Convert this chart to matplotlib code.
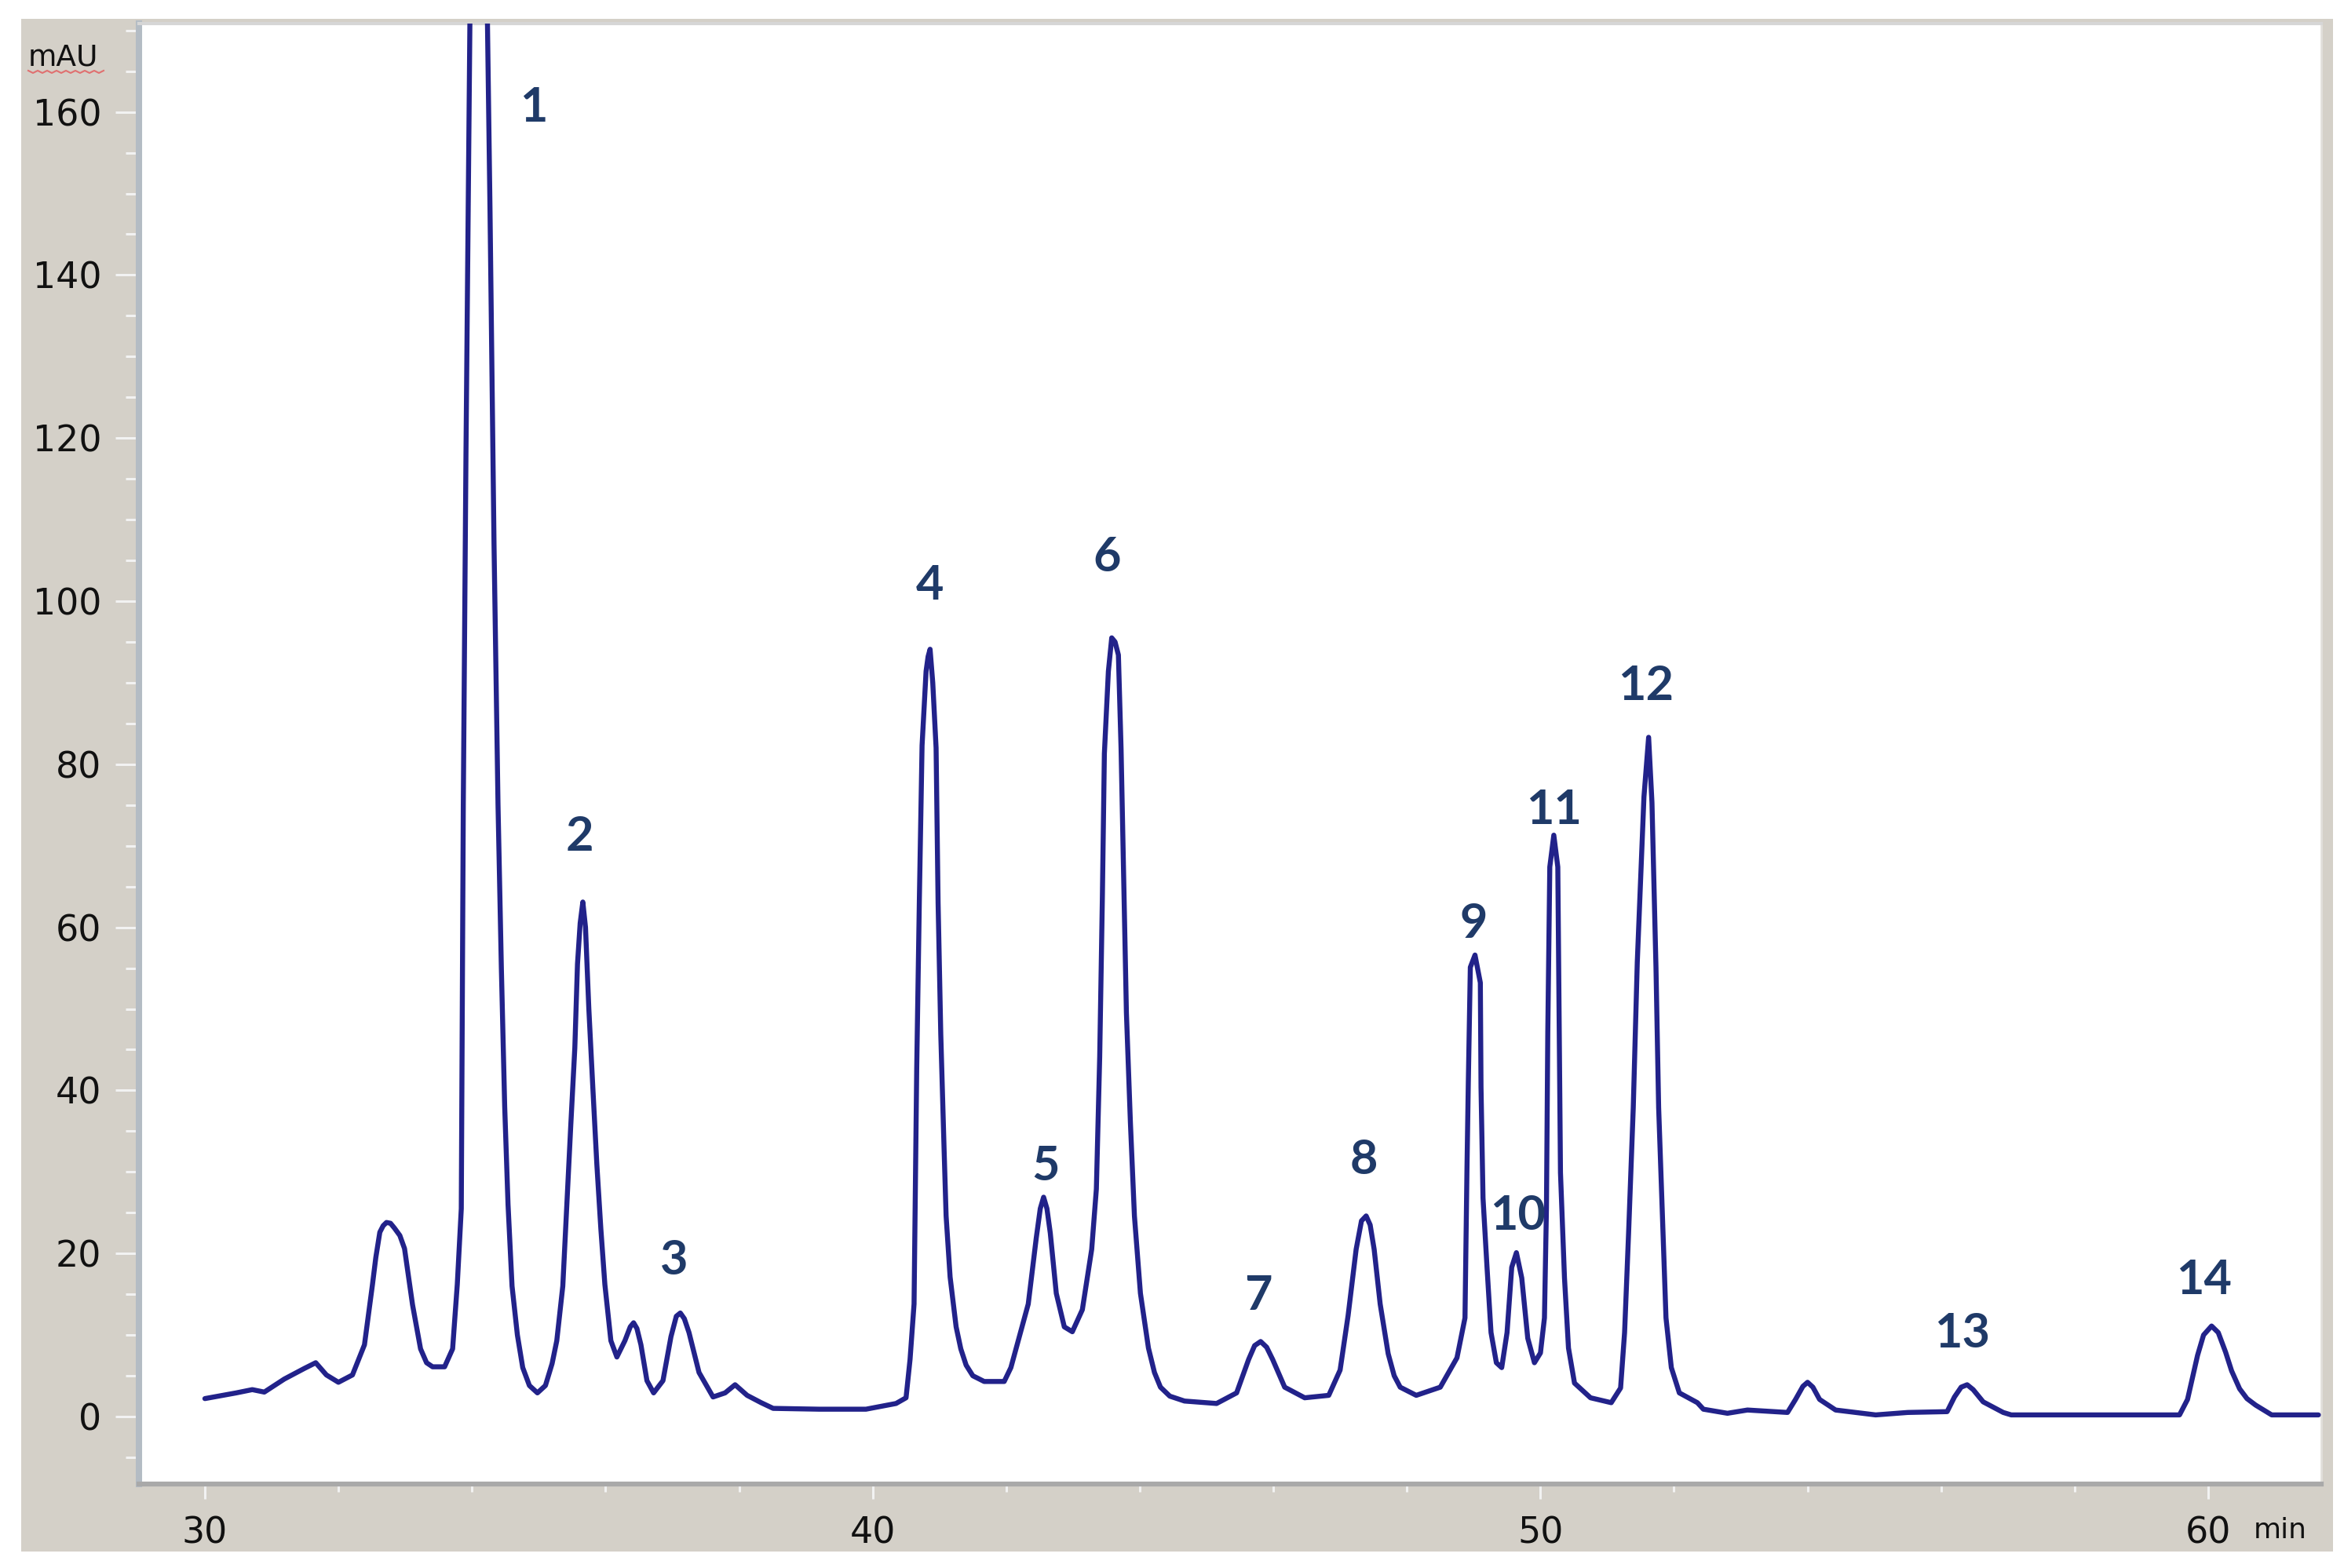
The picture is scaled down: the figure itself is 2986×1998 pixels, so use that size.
import matplotlib
matplotlib.use("Agg")
import matplotlib.pyplot as plt
from matplotlib.patches import Rectangle
from matplotlib.lines import Line2D
from matplotlib.ticker import MultipleLocator

# ---- data ----
time_min = [30.0, 30.47, 30.71, 30.89, 31.19, 31.49, 31.66, 31.82, 32.0, 32.21,
            32.39, 32.51, 32.56, 32.62, 32.67, 32.72, 32.78, 32.84, 32.92, 32.99,
            33.11, 33.23, 33.32, 33.41, 33.59,
            33.71, 33.78, 33.84, 33.87, 33.91, 33.97, 34.1, 34.23, 34.27, 34.33,
            34.39, 34.44, 34.49, 34.54, 34.6, 34.68, 34.76, 34.86, 34.98, 35.1,
            35.2, 35.27, 35.36, 35.42, 35.48, 35.54, 35.58, 35.62, 35.66, 35.7, 35.75, 35.81,
            35.87, 35.93, 35.99, 36.08, 36.17, 36.29, 36.37, 36.42, 36.47, 36.53, 36.62, 36.72,
            36.86, 36.98, 37.06, 37.12, 37.18, 37.25, 37.4, 37.61, 37.79, 37.94, 38.12, 38.33,
            38.51, 39.2,
            39.9, 40.35, 40.5, 40.56, 40.62, 40.66, 40.7, 40.74, 40.8, 40.83, 40.86,
            40.9, 40.95, 40.98, 41.02, 41.07, 41.1, 41.16, 41.25, 41.32, 41.4, 41.5, 41.67,
            41.97, 42.07, 42.15, 42.33, 42.45, 42.51, 42.56, 42.61, 42.66, 42.75, 42.87, 42.99, 43.14,
            43.28, 43.35, 43.4, 43.44, 43.47, 43.53, 43.58, 43.63, 43.68, 43.72, 43.76,
            43.8, 43.86, 43.92, 44.01, 44.13, 44.22, 44.31, 44.45, 44.67, 45.15, 45.45, 45.63, 45.72,
            45.81, 45.9, 45.99, 46.17, 46.47, 46.83, 47.0, 47.12, 47.24, 47.32, 47.39, 47.45, 47.51,
            47.6, 47.72, 47.81, 47.9, 48.14,
            48.5, 48.75, 48.87, 48.9, 48.92, 48.95, 49.02, 49.1, 49.11, 49.14,
            49.2, 49.26, 49.34, 49.42, 49.5, 49.57, 49.64, 49.72, 49.81, 49.91,
            50.0, 50.06, 50.09, 50.11, 50.14, 50.2, 50.26, 50.3, 50.36, 50.42,
            50.51, 50.75, 51.06, 51.2, 51.26, 51.32, 51.39, 51.45, 51.55, 51.62,
            51.67, 51.73, 51.77, 51.83, 51.88, 51.96, 52.08, 52.35,
            52.44, 52.8, 53.1, 53.7, 53.82, 53.93, 54.0, 54.08, 54.18, 54.42, 55.02, 55.5,
            56.09, 56.2, 56.3, 56.39, 56.48, 56.63, 56.93, 57.05, 59.57, 59.69, 59.76, 59.84,
            59.93, 60.05, 60.15, 60.26, 60.35, 60.47, 60.58, 60.71, 60.95, 61.65]

signal_mau = [2.2, 2.9, 3.3, 3.0, 4.6, 5.9, 6.6, 5.1, 4.2, 5.1,
              8.8, 16.2, 19.5, 22.6, 23.4, 23.8, 23.7, 23.1, 22.2, 20.6,
              13.7, 8.3, 6.6, 6.1, 6.1,
              8.3, 16.2, 25.5, 75.0, 118.0, 172.0, 185.0, 172.0, 148.0, 107.0,
              75.0, 55.0, 38.0, 26.0, 16.0, 10.0, 6.0, 3.8, 2.9, 3.8,
              6.5, 9.3, 16.0, 26.0, 35.8, 45.2, 55.5, 60.5, 63.1, 60.0, 50.0, 40.3,
              30.9, 23.0, 16.2, 9.3, 7.3, 9.3, 11.0, 11.5, 10.8, 8.8, 4.4, 2.9,
              4.4, 9.8, 12.3, 12.7, 12.0, 10.3, 5.4, 2.4, 2.9, 3.9, 2.6, 1.7,
              1.0, 0.9,
              0.9, 1.6, 2.3, 7.0, 13.8, 42.8, 63.7, 82.3, 91.4, 93.2, 94.1,
              90.0, 82.0, 63.0, 46.9, 32.7, 24.6, 17.1, 11.0, 8.3, 6.3, 5.0, 4.3,
              4.3, 6.0, 8.4, 13.8, 21.9, 25.5, 26.9, 25.5, 22.5, 15.1, 11.0, 10.4, 13.1,
              20.5, 27.9, 44.1, 63.7, 81.3, 91.4, 95.5, 95.0, 93.4, 81.9, 65.8,
              49.5, 36.0, 24.6, 15.1, 8.4, 5.4, 3.6, 2.5, 1.9, 1.6, 2.9, 7.0, 8.7,
              9.2, 8.5, 7.0, 3.6, 2.3, 2.6, 5.7, 12.4, 20.5, 24.0, 24.6, 23.5, 20.5,
              13.8, 7.7, 5.0, 3.6, 2.6,
              3.6, 7.2, 12.1, 30.5, 41.0, 55.1, 56.6, 53.2, 40.4, 26.8,
              18.3, 10.3, 6.6, 6.0, 10.3, 18.3, 20.1, 17.0, 9.6, 6.6,
              7.8, 12.1, 25.6, 47.1, 67.4, 71.3, 67.4, 29.9, 17.0, 8.4,
              4.1, 2.3, 1.7, 3.5, 10.3, 22.5, 37.9, 55.7, 76.0, 83.3,
              75.3, 55.1, 37.9, 23.8, 12.1, 6.0, 2.9, 1.7,
              0.9, 0.4, 0.8, 0.5, 2.1, 3.7, 4.2, 3.6, 2.1, 0.8, 0.2, 0.5,
              0.6, 2.4, 3.6, 3.9, 3.3, 1.8, 0.5, 0.2, 0.2, 2.1, 4.6, 7.5,
              10.0, 11.1, 10.3, 7.9, 5.6, 3.4, 2.2, 1.4, 0.2, 0.2]

peak_labels = ["1", "2", "3", "4", "5", "6", "7", "8", "9", "10", "11", "12", "13", "14"]
label_t = [34.92, 35.61, 37.03, 40.85, 42.59, 43.51, 45.77, 47.36, 49.0, 49.66, 50.2, 51.58, 56.31, 59.93]
label_v = [160.5, 71.1, 19.2, 101.9, 30.7, 105.4, 14.8, 31.5, 60.4, 24.6, 74.4, 89.6, 10.2, 16.7]

x_major = [30, 40, 50, 60]
y_major = [0, 20, 40, 60, 80, 100, 120, 140, 160]

# ---- figure ----
W, H = 2986, 1998
fig = plt.figure(figsize=(W / 100, H / 100), dpi=100)
fig.patch.set_facecolor("white")

# gray instrument-software panel
fig.patches.append(Rectangle((27 / W, 1 - 1977 / H), (2972 - 27) / W, (1977 - 24) / H,
                             transform=fig.transFigure, facecolor="#d4d0c8",
                             edgecolor="none", zorder=-10))

ax_left, ax_right, ax_top, ax_bottom = 177, 2957, 30, 1891
ax = fig.add_axes([ax_left / W, 1 - ax_bottom / H, (ax_right - ax_left) / W,
                   (ax_bottom - ax_top) / H])
ax.set_facecolor("white")

px_per_min = 85.1
px_per_unit = 10.39
ax.set_xlim(30 - (261 - ax_left) / px_per_min, 60 + (ax_right - 2813) / px_per_min)
ax.set_ylim(-(ax_bottom - 1805) / px_per_unit, (1805 - ax_top) / px_per_unit)

ax.plot(time_min, signal_mau, color="#22228a", lw=4.6, solid_joinstyle="round",
        solid_capstyle="round", zorder=3)

for lab, t, v in zip(peak_labels, label_t, label_v):
    ax.text(t, v, lab, ha="center", va="center", fontsize=44, color="#1f3a68",
            family="Lato", fontweight="bold", zorder=4)

# axes styling
ax.spines["left"].set_color("#b4bcc4")
ax.spines["left"].set_linewidth(5.8)
ax.spines["bottom"].set_color("#a9a9a9")
ax.spines["bottom"].set_linewidth(4.5)
ax.spines["top"].set_color("#d6d6d6")
ax.spines["top"].set_linewidth(3)
ax.spines["right"].set_color("#e2e0dc")
ax.spines["right"].set_linewidth(2)

ax.set_xticks(x_major)
ax.set_yticks(y_major)
ax.xaxis.set_minor_locator(MultipleLocator(2))
ax.yaxis.set_minor_locator(MultipleLocator(5))
ax.tick_params(axis="y", which="major", direction="out", length=21.5, width=2.2,
               color="#f2f2f2", pad=13, labelsize=33, labelcolor="#111111")
ax.tick_params(axis="y", which="minor", direction="out", length=12, width=2.2,
               color="#f2f2f2")
ax.tick_params(axis="x", which="major", direction="out", length=14, width=2.2,
               color="#f2f2f2", pad=15, labelsize=33, labelcolor="#111111")
ax.tick_params(axis="x", which="minor", direction="out", length=7, width=2.2,
               color="#f2f2f2")

# unit labels
fig.text(36 / W, 1 - 84 / H, "mAU", fontsize=27, color="#111111", ha="left",
         va="baseline")
zx = [36 + i * 6 for i in range(17)]
zy = [1 - (90 + (3 if i % 2 else 0)) / H for i in range(17)]
fig.lines.append(Line2D([x / W for x in zx], zy, transform=fig.transFigure,
                        color="#e07070", lw=1.5))
fig.text(2905 / W, 1 - 1950 / H, "min", fontsize=26, color="#111111", ha="center",
         va="center")

fig.savefig("out.png", dpi=100, facecolor=fig.get_facecolor())
